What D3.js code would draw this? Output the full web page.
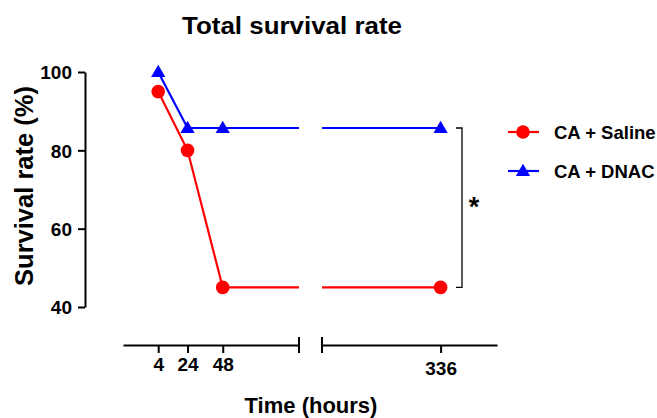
<!DOCTYPE html>
<html>
<head>
<meta charset="utf-8">
<script src="https://cdn.jsdelivr.net/npm/d3@7"></script>
<style>
  body { margin: 0; background: #fff; }
  text { font-family: "Liberation Sans", Arial, sans-serif; font-weight: bold; }
</style>
</head>
<body>
<div id="chart"></div>
<script>
// data
const hours = [4, 24, 48, 336];
const saline = [95, 80, 45, 45];
const dnac = [100, 85.7, 85.7, 85.7];
const seriesNames = ["CA + Saline", "CA + DNAC"];
const seriesColors = ["#ff0000", "#0000ff"];
const yTicks = [40, 60, 80, 100];
const xTicksLeft = [4, 24, 48];
const xTicksRight = [336];

const W = 657, H = 418;
const svg = d3.select("#chart").append("svg")
    .attr("width", W)
    .attr("height", H);

// scales - broken x axis
const xl = d3.scaleLinear().domain([-20, 100]).range([123, 299]);
const xr = d3.scaleLinear().domain([254, 375]).range([322, 497]);
const xPos = v => v <= 100 ? xl(v) : xr(v);
const y = d3.scaleLinear().domain([40, 100]).range([307, 72]);
const axisY = 345;

// title
svg.append("text")
    .attr("transform", "translate(292,34) scale(1.08,1)")
    .attr("text-anchor", "middle")
    .style("font-size", "24px")
    .text("Total survival rate");

// y axis
const yAxis = svg.append("g")
    .attr("transform", "translate(85,0)")
    .call(d3.axisLeft(y).tickValues(yTicks).tickSize(7).tickSizeOuter(0).tickPadding(6));
yAxis.selectAll("path, line").attr("stroke", "#000").attr("stroke-width", 2);
yAxis.selectAll("text").style("font-size", "19px").attr("fill", "#000").attr("dy", "0.36em");

svg.append("text")
    .attr("transform", "translate(33,186) rotate(-90)")
    .attr("text-anchor", "middle")
    .style("font-size", "25.5px")
    .text("Survival rate (%)");

// x axis, two segments
const xAxisL = svg.append("g")
    .attr("transform", `translate(0,${axisY})`)
    .call(d3.axisBottom(xl).tickValues(xTicksLeft).tickSize(8).tickSizeOuter(0).tickPadding(5));
const xAxisR = svg.append("g")
    .attr("transform", `translate(0,${axisY})`)
    .call(d3.axisBottom(xr).tickValues(xTicksRight).tickSize(8).tickSizeOuter(0).tickPadding(9));
[xAxisL, xAxisR].forEach(g => {
    g.selectAll("path, line").attr("stroke", "#000").attr("stroke-width", 2);
    g.selectAll("text").style("font-size", "19px").attr("fill", "#000");
});
// break ticks
[xl.range()[1], xr.range()[0]].forEach(px => {
    svg.append("line")
        .attr("x1", px).attr("x2", px)
        .attr("y1", axisY - 8).attr("y2", axisY + 8)
        .attr("stroke", "#000").attr("stroke-width", 2);
});

svg.append("text")
    .attr("x", 311).attr("y", 413)
    .attr("text-anchor", "middle")
    .style("font-size", "22px")
    .text("Time (hours)");

// clip the lines to each axis segment
const defs = svg.append("defs");
const clip = defs.append("clipPath").attr("id", "seg");
clip.append("rect").attr("x", xl.range()[0]).attr("y", 0)
    .attr("width", xl.range()[1] - xl.range()[0]).attr("height", H);
clip.append("rect").attr("x", xr.range()[0]).attr("y", 0)
    .attr("width", xr.range()[1] - xr.range()[0]).attr("height", H);

const line = d3.line()
    .x((d, i) => xPos(hours[i]))
    .y(d => y(d));

const allSeries = [saline, dnac];
allSeries.forEach((vals, k) => {
    svg.append("path")
        .datum(vals)
        .attr("d", line)
        .attr("fill", "none")
        .attr("stroke", seriesColors[k])
        .attr("stroke-width", 2.2)
        .attr("clip-path", "url(#seg)");
});

const sym = [d3.symbol().type(d3.symbolCircle).size(145), d3.symbol().type(d3.symbolTriangle).size(88)];
allSeries.forEach((vals, k) => {
    svg.append("g").selectAll("path")
        .data(vals)
        .join("path")
        .attr("d", sym[k])
        .attr("transform", (d, i) => `translate(${xPos(hours[i])},${y(d) + (k === 1 ? 1 : 0)})`)
        .attr("fill", seriesColors[k]);
});

// significance bracket
const bx = 462;
svg.append("path")
    .attr("d", `M${bx - 6},${y(85.7)}H${bx}V${y(45)}H${bx - 6}`)
    .attr("fill", "none")
    .attr("stroke", "#000")
    .attr("stroke-width", 1.3);
svg.append("text")
    .attr("x", 474).attr("y", 216)
    .attr("text-anchor", "middle")
    .style("font-size", "27px")
    .text("*");

// legend
const legend = svg.append("g");
seriesNames.forEach((name, k) => {
    const ly = 132 + k * 39;
    legend.append("line")
        .attr("x1", 508).attr("x2", 539)
        .attr("y1", ly).attr("y2", ly)
        .attr("stroke", seriesColors[k]).attr("stroke-width", 2.2);
    legend.append("path")
        .attr("d", sym[k])
        .attr("transform", `translate(523,${ly + (k === 1 ? 1 : 0)})`)
        .attr("fill", seriesColors[k]);
    legend.append("text")
        .attr("x", 554).attr("y", ly)
        .attr("dy", "0.36em")
        .style("font-size", "18.5px")
        .text(name);
});
</script>
</body>
</html>
